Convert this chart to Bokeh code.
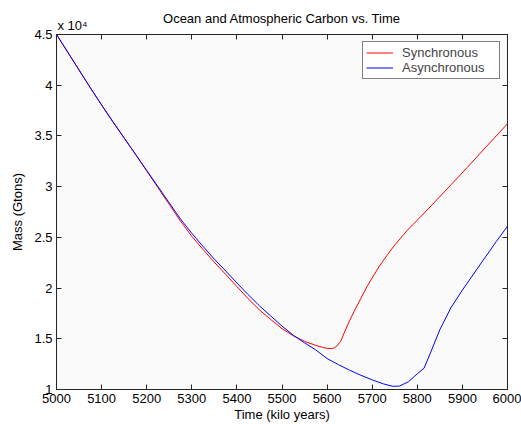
from bokeh.plotting import figure
from bokeh.models import FixedTicker, LinearAxis, Range1d, Title
from bokeh.embed import file_html
from bokeh.resources import INLINE

# Synchronous (red)
time_sync = [5000, 5025, 5050, 5075, 5100, 5125, 5150, 5175, 5200, 5225, 5250, 5275,
             5300, 5325, 5350, 5375, 5400, 5425, 5450, 5475, 5500, 5525, 5550, 5575,
             5590, 5600, 5610, 5616, 5622, 5630, 5641, 5650, 5660, 5675, 5689, 5700,
             5715, 5734, 5750, 5778, 5800, 5837, 5875, 5911, 5950, 6000]
mass_sync = [45000, 43250, 41500, 39750, 38050, 36400, 34800, 33200, 31550, 29900, 28250, 26600,
             25100, 23800, 22550, 21350, 20150, 18950, 17850, 16900, 16000, 15300, 14750, 14350,
             14150, 14060, 14030, 14100, 14300, 14750, 15900, 16800, 17700, 19000, 20180, 21000,
             22100, 23300, 24250, 25700, 26700, 28400, 30200, 31900, 33800, 36200]

# Asynchronous (blue)
time_async = [5000, 5025, 5050, 5075, 5100, 5125, 5150, 5175, 5200, 5225, 5250, 5275,
              5300, 5325, 5350, 5375, 5400, 5425, 5450, 5475, 5500, 5525, 5550, 5575,
              5600, 5625, 5650, 5675, 5700, 5725, 5745, 5760, 5780, 5800, 5815, 5830,
              5850, 5875, 5900, 5925, 5950, 5975, 6000]
mass_async = [45000, 43250, 41500, 39750, 38050, 36400, 34800, 33200, 31600, 30000, 28400, 26800,
              25400, 24100, 22850, 21700, 20500, 19350, 18250, 17250, 16250, 15350, 14600, 13900,
              13050, 12450, 11900, 11400, 10950, 10550, 10320, 10330, 10750, 11550, 12100, 13700,
              15900, 18100, 19800, 21400, 23000, 24580, 26100]

x_ticks = [5000, 5100, 5200, 5300, 5400, 5500, 5600, 5700, 5800, 5900, 6000]
y_ticks = [10000, 15000, 20000, 25000, 30000, 35000, 40000, 45000]
y_tick_labels = ["1", "1.5", "2", "2.5", "3", "3.5", "4", "4.5"]

FONT = "Liberation Sans"
AXC = "#262626"

p = figure(width=521, height=424, output_backend="svg", toolbar_location=None,
           x_range=Range1d(5000, 6000), y_range=Range1d(10000, 45000),
           min_border_left=56, min_border_right=14, min_border_top=34, min_border_bottom=35,
           background_fill_color="#fafafa", border_fill_color="white",
           outline_line_color=AXC)

p.title.text = "Ocean and Atmospheric Carbon vs. Time"
p.title.align = "center"
p.title.text_font = FONT
p.title.text_font_size = "13px"
p.title.text_font_style = "normal"
p.title.text_color = "black"
p.title.standoff = -16

p.xgrid.visible = False
p.ygrid.visible = False

bottom_axis = p.xaxis[0]
left_axis = p.yaxis[0]
top_axis = LinearAxis()
right_axis = LinearAxis()
p.add_layout(top_axis, "above")
p.add_layout(right_axis, "right")

for ax in [bottom_axis, top_axis]:
    ax.ticker = FixedTicker(ticks=x_ticks)
for ax in [left_axis, right_axis]:
    ax.ticker = FixedTicker(ticks=y_ticks)
left_axis.major_label_overrides = {t: l for t, l in zip(y_ticks, y_tick_labels)}
top_axis.major_label_overrides = {t: "" for t in x_ticks}
right_axis.major_label_overrides = {t: "" for t in y_ticks}

for ax in [bottom_axis, left_axis, top_axis, right_axis]:
    ax.major_tick_in = 5
    ax.major_tick_out = 0
    ax.minor_tick_in = 0
    ax.minor_tick_out = 0
    ax.axis_line_color = AXC
    ax.major_tick_line_color = AXC
    ax.major_label_text_font = FONT
    ax.major_label_text_font_size = "13px"
    ax.major_label_text_color = "black"
    ax.major_label_standoff = 4

for ax in [top_axis, right_axis]:
    ax.major_label_standoff = 0

bottom_axis.axis_label = "Time (kilo years)"
left_axis.axis_label = "Mass (Gtons)"
for ax in [bottom_axis, left_axis]:
    ax.axis_label_text_font = FONT
    ax.axis_label_text_font_size = "13px"
    ax.axis_label_text_font_style = "normal"
    ax.axis_label_text_color = "black"
bottom_axis.axis_label_standoff = 1
left_axis.axis_label_standoff = 6

p.line(time_sync, mass_sync, line_color="red", line_width=1, legend_label="Synchronous")
p.line(time_async, mass_async, line_color="blue", line_width=1, legend_label="Asynchronous")

p.legend.location = "top_right"
p.legend.border_line_color = "black"
p.legend.border_line_width = 1
p.legend.background_fill_color = "white"
p.legend.background_fill_alpha = 1
p.legend.label_text_font = FONT
p.legend.label_text_font_size = "13px"
p.legend.glyph_width = 27
p.legend.glyph_height = 15
p.legend.label_height = 15
p.legend.label_width = 94
p.legend.label_standoff = 9
p.legend.spacing = 0
p.legend.padding = 3
p.legend.margin = 7

scale_title = Title(text="x 10\u2074", align="left", offset=1, standoff=0,
                    vertical_align="top",
                    text_font=FONT, text_font_size="13px", text_font_style="normal",
                    text_color="black")
p.add_layout(scale_title, "above")

open("out.html", "w").write(file_html(p, INLINE))
